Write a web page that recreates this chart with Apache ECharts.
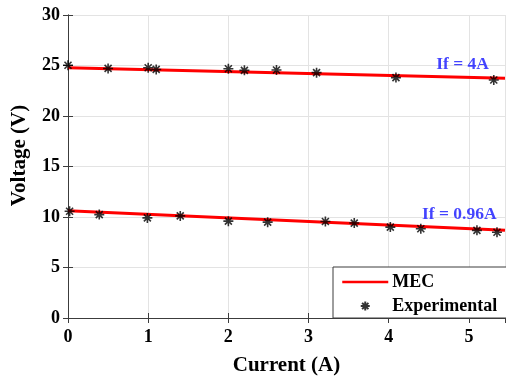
<!DOCTYPE html>
<html>
<head>
<meta charset="utf-8">
<script src="https://cdn.jsdelivr.net/npm/echarts@6/dist/echarts.min.js"></script>
<style>
    html, body { margin: 0; padding: 0; background: #fff; }
    #chart { width: 506px; height: 381px; }
</style>
</head>
<body>
<div id="chart"></div>
<script>
// experimental points, If = 4A
let currentHigh = [0, 0.5, 1.0, 1.1, 2.0, 2.2, 2.6, 3.1, 4.09, 5.31];
let voltageHigh = [25.03, 24.71, 24.78, 24.61, 24.68, 24.52, 24.55, 24.29, 23.8, 23.57];
// experimental points, If = 0.96A
let currentLow = [0.02, 0.39, 0.99, 1.4, 2.0, 2.49, 3.21, 3.57, 4.02, 4.4, 5.1, 5.35];
let voltageLow = [10.57, 10.24, 9.91, 10.11, 9.59, 9.49, 9.56, 9.4, 9.0, 8.84, 8.68, 8.49];
// MEC model lines
let mecCurrent = [0, 5.45];
let mecHigh = [24.78, 23.74];
let mecLow = [10.63, 8.68];
// annotations
let annotText = ['If = 4A', 'If = 0.96A'];
let annotX = [4.92, 4.88];
let annotY = [25.1, 10.2];

let xTicks = [0, 1, 2, 3, 4, 5];
let yTicks = [0, 5, 10, 15, 20, 25, 30];

let zip = (xs, ys) => xs.map((x, i) => [x, ys[i]]);

let font = '"Liberation Serif", "Times New Roman", serif';
let axisColor = '#3c3c3c';
let star = 'path://M0,-1L0,1M-1,0L1,0M-0.7,-0.7L0.7,0.7M-0.7,0.7L0.7,-0.7';

let starStyle = {
    color: 'rgba(0,0,0,0)',
    borderColor: '#000',
    borderWidth: 1.6
};

let baseX = {
    type: 'value',
    min: xTicks[0],
    max: 5.45,
    interval: 1,
    axisLine: { show: true, lineStyle: { color: axisColor, width: 1 } },
    axisTick: { show: true, inside: true, length: 5, lineStyle: { color: axisColor } }
};
let baseY = {
    type: 'value',
    min: yTicks[0],
    max: yTicks[yTicks.length - 1],
    interval: 5,
    axisLine: { show: true, lineStyle: { color: axisColor, width: 1 } },
    axisTick: { show: true, inside: true, length: 5, lineStyle: { color: axisColor } }
};

let option = {
    animation: false,
    backgroundColor: '#fff',
    textStyle: { fontFamily: font },
    grid: {
        left: 68,
        right: 1,
        top: 15,
        bottom: 59,
        containLabel: false
    },
    legend: {
        data: [
            { name: 'MEC', itemStyle: { opacity: 0 }, lineStyle: { width: 2.5, color: '#ff0000' } },
            { name: 'Experimental' }
        ],
        orient: 'vertical',
        left: 333,
        top: 267,
        padding: [6, 20, 3, 8],
        itemGap: 6,
        itemWidth: 46,
        itemHeight: 9,
        backgroundColor: '#fff',
        borderColor: axisColor,
        borderWidth: 1,
        borderRadius: 0,
        textStyle: {
            fontFamily: font,
            fontWeight: 'bold',
            fontSize: 18,
            color: '#000',
            padding: [0, 0, 0, -1]
        }
    },
    xAxis: [
        Object.assign({}, baseX, {
            position: 'bottom',
            name: 'Current (A)',
            nameLocation: 'middle',
            nameGap: 37,
            nameTextStyle: { fontFamily: font, fontWeight: 'bold', fontSize: 21, color: '#000' },
            axisLabel: {
                margin: 10,
                fontFamily: font,
                fontWeight: 'bold',
                fontSize: 18,
                color: '#000',
                showMaxLabel: false,
                formatter: v => (xTicks.indexOf(v) >= 0 ? String(v) : '')
            },
            splitLine: { show: true, lineStyle: { color: '#e3e3e3', width: 1 } }
        }),
        Object.assign({}, baseX, {
            position: 'top',
            axisLabel: { show: false },
            splitLine: { show: false }
        })
    ],
    yAxis: [
        Object.assign({}, baseY, {
            position: 'left',
            name: 'Voltage (V)',
            nameLocation: 'middle',
            nameGap: 38,
            nameTextStyle: {
                fontFamily: font, fontWeight: 'bold', fontSize: 21, color: '#000',
                padding: [0, 0, 0, 22]
            },
            axisLabel: {
                margin: 8,
                fontFamily: font,
                fontWeight: 'bold',
                fontSize: 18,
                color: '#000'
            },
            splitLine: { show: true, lineStyle: { color: '#e3e3e3', width: 1 } }
        }),
        Object.assign({}, baseY, {
            position: 'right',
            axisLabel: { show: false },
            splitLine: { show: false }
        })
    ],
    series: [
        {
            name: 'MEC',
            type: 'line',
            data: zip(mecCurrent, mecHigh),
            showSymbol: false,
            symbol: 'none',
            lineStyle: { color: '#ff0000', width: 3 },
            itemStyle: { color: '#ff0000' },
            z: 2
        },
        {
            name: 'MEC',
            type: 'line',
            data: zip(mecCurrent, mecLow),
            showSymbol: false,
            symbol: 'none',
            lineStyle: { color: '#ff0000', width: 3 },
            itemStyle: { color: '#ff0000' },
            z: 2
        },
        {
            name: 'Experimental',
            type: 'scatter',
            data: zip(currentHigh, voltageHigh).concat(zip(currentLow, voltageLow)),
            symbol: star,
            symbolSize: 10,
            itemStyle: starStyle,
            z: 3
        },
        {
            name: 'annot',
            type: 'scatter',
            data: annotText.map((t, i) => ({ name: t, value: [annotX[i], annotY[i]] })),
            symbolSize: 0,
            silent: true,
            label: {
                show: true,
                position: 'inside',
                formatter: p => p.name,
                fontFamily: font,
                fontWeight: 'bold',
                fontSize: 17.5,
                color: '#1414ff'
            },
            z: 4
        }
    ]
};

let myChart = echarts.init(document.getElementById('chart'), null, { renderer: 'canvas' });
myChart.setOption(option);
</script>
</body>
</html>
